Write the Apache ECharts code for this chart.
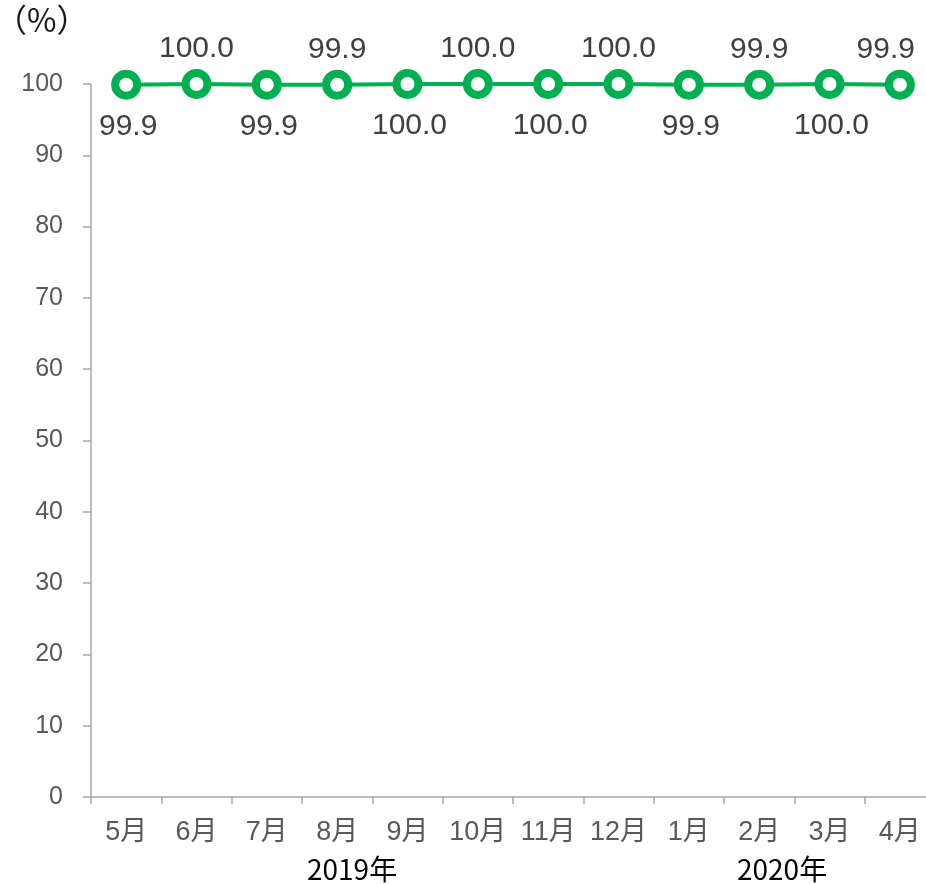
<!DOCTYPE html>
<html>
<head>
<meta charset="utf-8">
<script src="https://cdn.jsdelivr.net/npm/echarts@6/dist/echarts.min.js"></script>
<style>
  html, body { margin: 0; padding: 0; background: #fff; }
  #chart { width: 926px; height: 884px; }
</style>
</head>
<body>
<div id="chart"></div>
<script>
// Monthly rate (%), May 2019 – April 2020
const months = ['5月', '6月', '7月', '8月', '9月', '10月', '11月', '12月', '1月', '2月', '3月', '4月'];
const rates = [99.9, 100.0, 99.9, 99.9, 100.0, 100.0, 100.0, 100.0, 99.9, 99.9, 100.0, 99.9];
const yTicks = { min: 0, max: 100, interval: 10 };
const yearLabels = ['2019年', '2020年'];

const GREEN = '#00B050';
const FONT = '"Liberation Sans", "Noto Sans CJK JP", sans-serif';
const CJK = '"Noto Sans CJK JP", sans-serif';

const chart = echarts.init(document.getElementById('chart'), null, { renderer: 'canvas' });

chart.setOption({
  animation: false,
  backgroundColor: '#ffffff',
  // the plot runs slightly past the right edge of the canvas
  grid: { left: 91, width: 844, top: 84, bottom: 87, containLabel: false, outerBoundsMode: 'none' },
  xAxis: {
    type: 'category',
    data: months,
    boundaryGap: true,
    axisLine: { lineStyle: { color: '#A6A6A6', width: 1.5 } },
    axisTick: { show: true, length: 7, alignWithLabel: false, lineStyle: { color: '#A6A6A6', width: 1.5 } },
    axisLabel: { color: '#595959', fontSize: 27, fontFamily: FONT, margin: 22, interval: 0 },
    splitLine: { show: false }
  },
  yAxis: {
    type: 'value',
    min: yTicks.min,
    max: yTicks.max,
    interval: yTicks.interval,
    axisLine: { show: true, lineStyle: { color: '#A6A6A6', width: 1.5 } },
    axisTick: { show: true, length: 8, lineStyle: { color: '#A6A6A6', width: 1.5 } },
    axisLabel: { color: '#595959', fontSize: 25, fontFamily: FONT, margin: 28 },
    splitLine: { show: false }
  },
  graphic: [
    {
      type: 'text', left: -5, top: 4,
      style: { text: '（%）', fill: '#1a1a1a', font: '32px ' + CJK }
    },
    {
      type: 'text', left: 307, top: 855,
      style: { text: yearLabels[0], fill: '#000', font: '28px ' + CJK }
    },
    {
      type: 'text', left: 737, top: 855,
      style: { text: yearLabels[1], fill: '#000', font: '28px ' + CJK }
    }
  ],
  series: [{
    type: 'line',
    data: rates,
    symbol: 'circle',
    symbolSize: 22,
    lineStyle: { color: GREEN, width: 4 },
    itemStyle: { color: '#ffffff', borderColor: GREEN, borderWidth: 8 },
    label: {
      show: true,
      position: 'inside',
      color: '#404040',
      fontSize: 30,
      fontFamily: FONT,
      formatter: p => p.value.toFixed(1)
    },
    // alternate labels below / above the markers and keep them inside the canvas
    labelLayout: function (params) {
      const r = params.labelRect;
      const below = params.dataIndex % 2 === 0;
      let dx = below ? 2 : 0;
      const dy = below ? 42 : -35;
      const maxRight = chart.getWidth() - 11;
      if (r.x + r.width + dx > maxRight) dx = maxRight - (r.x + r.width);
      return { dx: dx, dy: dy };
    },
    z: 3
  }]
});
</script>
</body>
</html>
